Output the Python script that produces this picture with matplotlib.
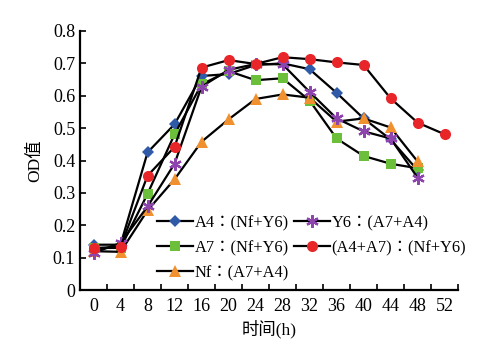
import numpy as np
import matplotlib.pyplot as plt
from matplotlib.ticker import MultipleLocator

hours = [0, 4, 8, 12, 16, 20, 24, 28, 32, 36, 40, 44, 48, 52]

a4 = [0.14, 0.14, 0.425, 0.512, 0.661, 0.667, 0.695, 0.70, 0.682, 0.609, 0.53, 0.465, 0.37]
a7 = [0.13, 0.13, 0.297, 0.481, 0.635, 0.676, 0.648, 0.654, 0.585, 0.468, 0.414, 0.39, 0.376]
nf = [0.12, 0.118, 0.246, 0.342, 0.458, 0.527, 0.59, 0.604, 0.594, 0.52, 0.53, 0.502, 0.397]
y6 = [0.115, 0.145, 0.258, 0.39, 0.628, 0.68, 0.698, 0.697, 0.612, 0.53, 0.49, 0.468, 0.347]
a4a7 = [0.129, 0.134, 0.353, 0.442, 0.687, 0.71, 0.698, 0.719, 0.713, 0.703, 0.695, 0.592, 0.517, 0.481]

labels = ['A4：(Nf+Y6)', 'A7：(Nf+Y6)', 'Nf：(A7+A4)', 'Y6：(A7+A4)', '(A4+A7)：(Nf+Y6)']

fam = ['Liberation Serif', 'Noto Sans CJK TC']
plt.rcParams['font.family'] = fam
plt.rcParams['font.size'] = 13

fig = plt.figure(figsize=(4.91, 3.52), dpi=100)
ax = fig.add_axes([0.163, 0.176, 0.77, 0.736])

kw = dict(color='black', lw=1.6, markeredgewidth=0)
h1, = ax.plot(hours[:len(a4)], a4, marker='D', ms=6.5, markerfacecolor='#2f5aa8', **kw)
h2, = ax.plot(hours[:len(a7)], a7, marker='s', ms=7, markerfacecolor='#6cbf3b', **kw)
h3, = ax.plot(hours[:len(nf)], nf, marker='^', ms=8.5, markerfacecolor='#f0902f', **kw)
h4, = ax.plot(hours[:len(y6)], y6, marker=(6, 2, 0), ms=9, color='black', lw=1.6,
              markeredgecolor='#8e44ad', markeredgewidth=1.6)
h5, = ax.plot(hours, a4a7, marker='o', ms=8, markerfacecolor='#e8262a', **kw)

ax.set_xlim(-2, 54)
ax.set_ylim(0, 0.8)
ax.set_xticks(hours)
ax.xaxis.set_minor_locator(MultipleLocator(4, offset=2))
ax.tick_params(axis='x', which='major', length=0, pad=6)
ax.tick_params(axis='x', which='minor', direction='in', length=4, width=1.2)
ax.yaxis.set_major_locator(MultipleLocator(0.1))
ax.yaxis.set_major_formatter(plt.FuncFormatter(lambda v, p: '0' if abs(v) < 1e-9 else f'{v:.1f}'))
ax.tick_params(axis='y', direction='in', length=4, width=1.2)

for s in ['top', 'right']:
    ax.spines[s].set_visible(False)
for s in ['left', 'bottom']:
    ax.spines[s].set_linewidth(1.6)

ax.set_xlabel('时间(h)', fontsize=12.5, labelpad=3)
ax.set_ylabel('OD值', fontsize=12.5, labelpad=7)

ax.legend([h1, h2, h3, h4, h5], labels, ncol=2, loc='lower left',
          bbox_to_anchor=(0.18, 0.0), frameon=False, handlelength=2.2,
          columnspacing=0.3, handletextpad=0.1, labelspacing=0.55,
          borderaxespad=0.15, fontsize=11.8)

fig.savefig('out.png', dpi=100)
